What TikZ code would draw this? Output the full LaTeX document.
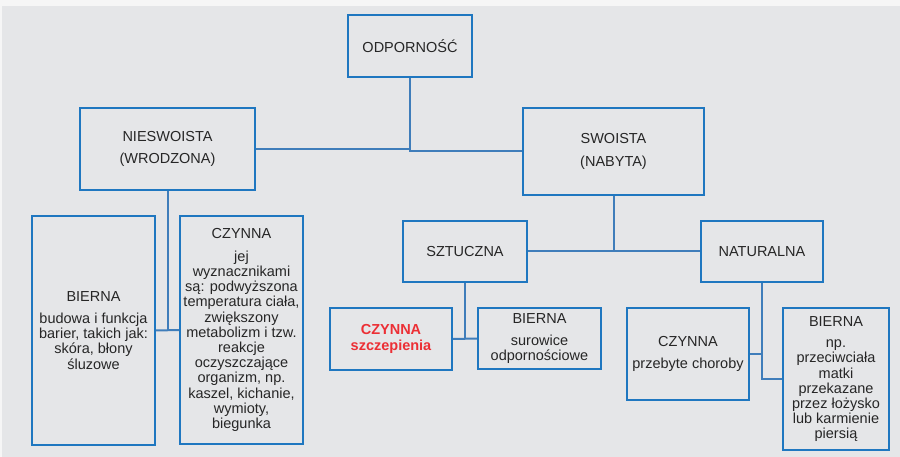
\documentclass[tikz,border=0pt]{standalone}
\usepackage{fontspec}
\setmainfont{Liberation Sans}
\definecolor{bgout}{HTML}{F6F6F6}
\definecolor{bgin}{HTML}{E5E6E8}
\definecolor{boxblue}{HTML}{1F77C0}
\definecolor{linkblue}{HTML}{3F7DBA}
\definecolor{txt}{HTML}{262626}
\definecolor{redtxt}{HTML}{EC2F35}
\tikzset{
  box/.style={draw=boxblue, line width=1.8pt, inner sep=0pt, align=center,
    text=txt, font=\fontsize{14.5}{15.2}\selectfont},
  connline/.style={draw=linkblue, line width=2pt},
}
\begin{document}
\begin{tikzpicture}[x=1pt,y=-1pt]
\useasboundingbox (0,0) rectangle (900,457);
\fill[bgout] (0,0) rectangle (900,457);
\fill[bgin] (2,6) rectangle (900,457);

\node[box, minimum width=124pt, minimum height=62pt] (odp) at (410,46) {ODPORNOŚĆ};
\node[box, minimum width=175pt, minimum height=82pt] (nies) at (167.5,149) {NIESWOISTA\\[7pt](WRODZONA)};
\node[box, minimum width=181pt, minimum height=87pt] (swo) at (613.5,151.5) {SWOISTA\\[7pt](NABYTA)};
\node[box, minimum width=123pt, minimum height=229pt] (bl) at (93.5,330.5)
  {BIERNA\\[6.5pt]budowa i funkcja\\barier, takich jak:\\skóra, błony\\śluzowe};
\node[box, minimum width=123pt, minimum height=228pt] (cl) at (241.5,330)
  {CZYNNA\\[7.5pt]jej\\wyznacznikami\\są: podwyższona\\temperatura ciała,\\zwiększony\\metabolizm i tzw.\\reakcje\\oczyszczające\\organizm, np.\\kaszel, kichanie,\\wymioty,\\biegunka};
\node[box, minimum width=124pt, minimum height=61pt] (sztu) at (465,251.5) {SZTUCZNA};
\node[box, minimum width=122pt, minimum height=61pt] (nat) at (762,251.5) {NATURALNA};
\node[box, minimum width=122pt, minimum height=62pt, text=redtxt, font=\fontsize{14.5}{15.2}\selectfont\bfseries] (cs) at (391,339) {CZYNNA\\szczepienia};
\node[box, minimum width=123pt, minimum height=61pt] (bs) at (539.5,338.5) {BIERNA\\[6.5pt]surowice\\odpornościowe};
\node[box, minimum width=122pt, minimum height=92pt] (cp) at (688,354) {CZYNNA\\[7.5pt]przebyte choroby};
\node[box, minimum width=106pt, minimum height=142pt] (bn) at (836,379)
  {BIERNA\\[6.5pt]np.\\przeciwciała\\matki\\przekazane\\przez łożysko\\lub karmienie\\piersią};

\path[connline] (nies.east) -- (nies.east -| odp.south);
\path[connline] (odp.south) |- (swo.west);
\path[connline] (swo.south) -- (swo.south |- sztu.east);
\path[connline] (sztu.east) -- (nat.west);
\path[connline] (nies.south) -- (nies.south |- bl.east);
\path[connline] (bl.east) -- (cl.west);
\path[connline] (sztu.south) -- (sztu.south |- cs.east);
\path[connline] (cs.east) -- (bs.west);
\path[connline] (nat.south) |- (bn.west);
\path[connline] (cp.east) -- (cp.east -| nat.south);
\end{tikzpicture}
\end{document}
